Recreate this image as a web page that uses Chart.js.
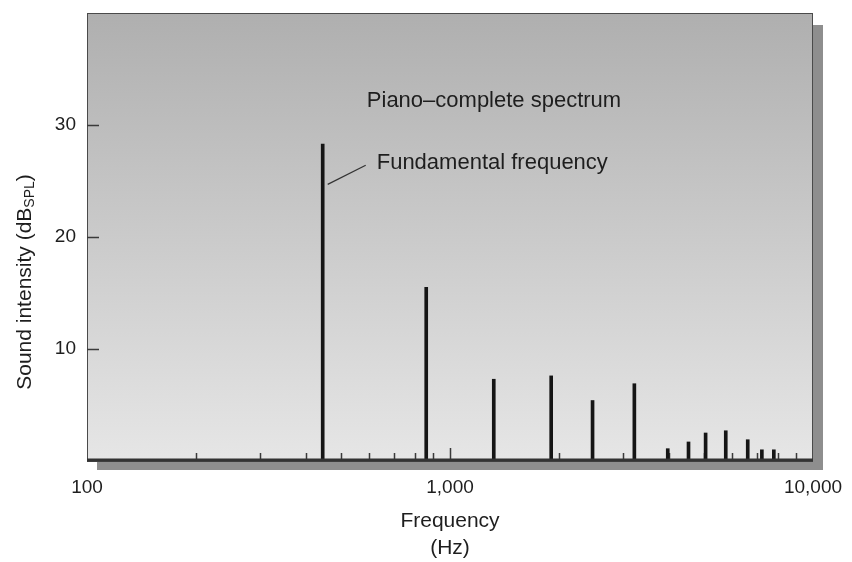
<!DOCTYPE html>
<html>
<head>
<meta charset="utf-8">
<script src="https://cdn.jsdelivr.net/npm/chart.js@4.4.1/dist/chart.umd.min.js"></script>
<style>
  html, body { margin: 0; padding: 0; background: #fff; }
  #wrap { width: 852px; height: 562px; }
</style>
</head>
<body>
<div id="wrap"><canvas id="spectrum" width="852" height="562"></canvas></div>
<script>
// partials of the piano tone (Hz) and their level (dB SPL)
const freqs = [446, 860, 1320, 1900, 2470, 3220, 3980, 4540, 5060, 5750, 6610, 7230, 7800];
const levels = [28.3, 15.5, 7.3, 7.6, 5.4, 6.9, 1.1, 1.7, 2.5, 2.7, 1.9, 1.0, 1.0];
const xLabelled = [100, 1000, 10000];
const xMinorTicks = [200, 300, 400, 500, 600, 700, 800, 900, 2000, 3000, 4000, 5000, 6000, 7000, 8000, 9000];
const xMajorTicks = [1000];
const yTicks = [10, 20, 30];

const FONT = "'Liberation Sans', Arial, Helvetica, sans-serif";

const panelPlugin = {
  id: 'panel',
  beforeDatasetsDraw(chart) {
    const { ctx, chartArea: a } = chart;
    ctx.save();
    // drop shadow
    ctx.fillStyle = '#8e8e8e';
    ctx.fillRect(a.left + 10, a.top + 12, a.right - a.left, a.bottom - a.top - 3);
    // gradient face
    const g = ctx.createLinearGradient(0, a.top, 0, a.bottom);
    g.addColorStop(0, '#afafaf');
    g.addColorStop(1, '#e6e6e6');
    ctx.fillStyle = g;
    ctx.fillRect(a.left, a.top, a.right - a.left, a.bottom - a.top);
    ctx.strokeStyle = '#4a4a4a';
    ctx.lineWidth = 1;
    ctx.strokeRect(a.left + 0.5, a.top + 0.5, a.right - a.left - 1, a.bottom - a.top);

    // ticks inside the panel
    const xs = chart.scales.x, ys = chart.scales.y;
    ctx.strokeStyle = '#3a3a3a';
    ctx.lineWidth = 1.5;
    ctx.beginPath();
    xMinorTicks.forEach(v => {
      const px = Math.round(xs.getPixelForValue(v)) + 0.5;
      ctx.moveTo(px, a.bottom); ctx.lineTo(px, a.bottom - 8);
    });
    xMajorTicks.forEach(v => {
      const px = Math.round(xs.getPixelForValue(v)) + 0.5;
      ctx.moveTo(px, a.bottom); ctx.lineTo(px, a.bottom - 13);
    });
    yTicks.forEach(v => {
      const py = Math.round(ys.getPixelForValue(v)) + 0.5;
      ctx.moveTo(a.left, py); ctx.lineTo(a.left + 12, py);
    });
    ctx.stroke();
    ctx.restore();
  },
  afterDatasetsDraw(chart) {
    const { ctx, chartArea: a } = chart;
    const xs = chart.scales.x, ys = chart.scales.y;
    ctx.save();
    // baseline
    ctx.strokeStyle = '#333';
    ctx.lineWidth = 3;
    ctx.beginPath();
    ctx.moveTo(a.left, a.bottom - 1);
    ctx.lineTo(a.right, a.bottom - 1);
    ctx.stroke();

    ctx.fillStyle = '#1e1e1e';
    ctx.font = '22px ' + FONT;
    ctx.textBaseline = 'middle';
    ctx.textAlign = 'center';
    ctx.fillText('Piano\u2013complete spectrum', 494, 101);

    // leader to the fundamental
    const fx = xs.getPixelForValue(freqs[0]);
    const y0 = ys.getPixelForValue(24.7);
    const y1 = ys.getPixelForValue(26.4);
    ctx.strokeStyle = '#333';
    ctx.lineWidth = 1.2;
    ctx.beginPath();
    ctx.moveTo(fx + 5, y0);
    ctx.lineTo(fx + 43, y1);
    ctx.stroke();
    ctx.textAlign = 'left';
    ctx.fillText('Fundamental frequency', fx + 54, 163);

    // y title with subscript
    ctx.translate(25, 282);
    ctx.rotate(-Math.PI / 2);
    const main = 'Sound intensity (dB';
    ctx.font = '21px ' + FONT;
    const w1 = ctx.measureText(main).width;
    ctx.font = '14px ' + FONT;
    const w2 = ctx.measureText('SPL').width;
    ctx.font = '21px ' + FONT;
    const w3 = ctx.measureText(')').width;
    let x = -(w1 + w2 + w3) / 2;
    ctx.textAlign = 'left';
    ctx.fillText(main, x, 0);
    x += w1;
    ctx.font = '14px ' + FONT;
    ctx.fillText('SPL', x, 5);
    x += w2;
    ctx.font = '21px ' + FONT;
    ctx.fillText(')', x, 0);
    ctx.restore();
  }
};

new Chart(document.getElementById('spectrum').getContext('2d'), {
  type: 'bar',
  data: {
    datasets: [{
      data: freqs.map((f, i) => ({ x: f, y: levels[i] })),
      backgroundColor: '#151515',
      borderWidth: 0,
      barThickness: 3
    }]
  },
  options: {
    responsive: false,
    animation: false,
    events: [],
    layout: { padding: { left: 0, right: 39, top: 13, bottom: 0 } },
    plugins: { legend: { display: false }, tooltip: { enabled: false } },
    scales: {
      x: {
        type: 'logarithmic',
        min: 100,
        max: 10000,
        offset: false,
        grid: { display: false, drawTicks: false },
        border: { display: false },
        ticks: {
          autoSkip: false,
          maxRotation: 0,
          padding: 15,
          color: '#1e1e1e',
          font: { family: FONT, size: 19 },
          callback: v => xLabelled.includes(v) ? v.toLocaleString('en-US') : ''
        },
        title: {
          display: true,
          text: ['Frequency', '(Hz)'],
          color: '#1e1e1e',
          font: { family: FONT, size: 21, lineHeight: 1.3 },
          padding: { top: 4, bottom: 0 }
        },
        afterFit: s => { s.height = 101; s.paddingLeft = 0; s.paddingRight = 0; }
      },
      y: {
        min: 0,
        max: 40,
        grid: { display: false, drawTicks: false },
        border: { display: false },
        ticks: {
          stepSize: 10,
          padding: 11,
          color: '#1e1e1e',
          font: { family: FONT, size: 19 },
          callback: v => yTicks.includes(v) ? String(v) : ''
        },
        afterFit: s => { s.width = 87; s.paddingTop = 0; s.paddingBottom = 0; }
      }
    }
  },
  plugins: [panelPlugin]
});
</script>
</body>
</html>
